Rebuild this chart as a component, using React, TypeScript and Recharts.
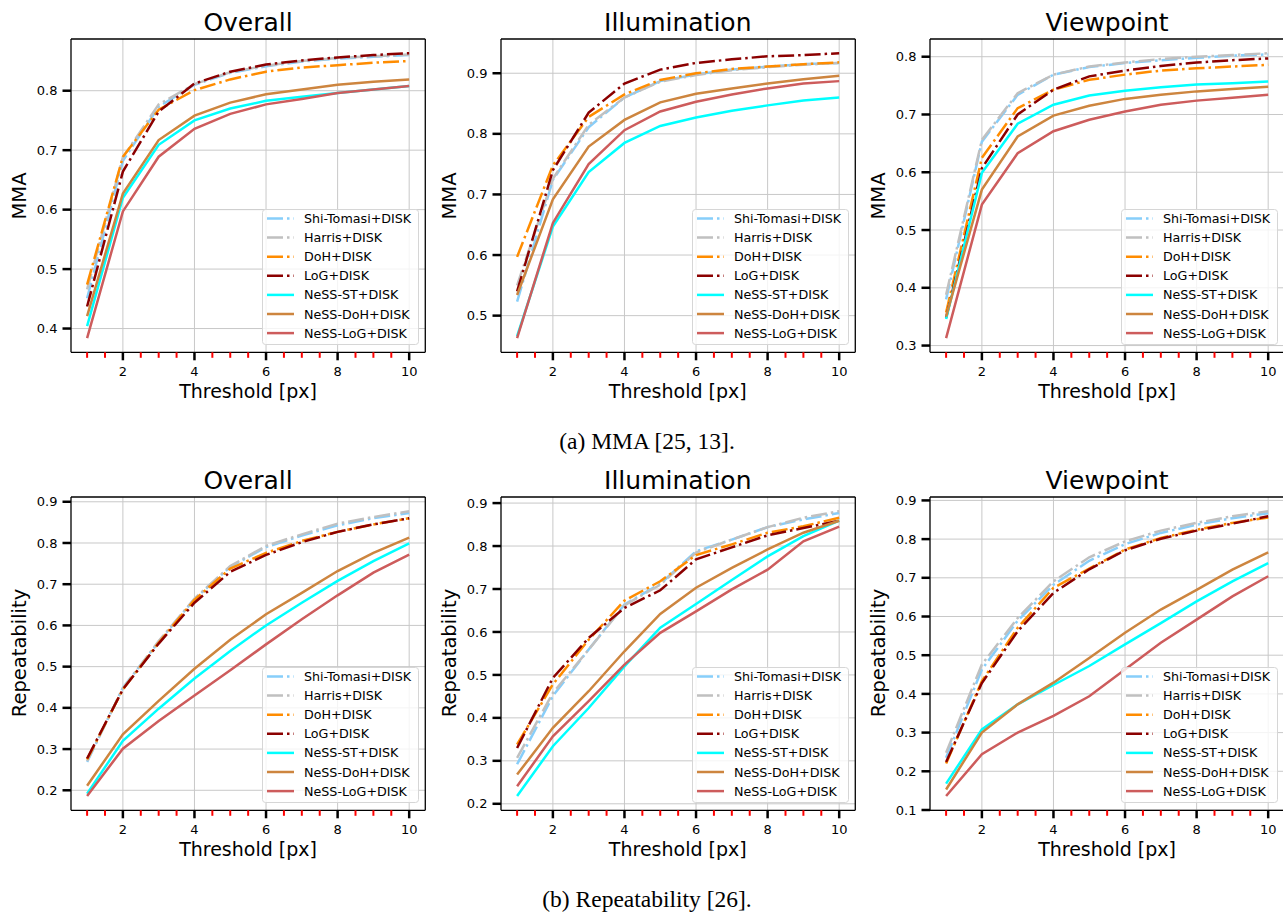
import React from "react";
import {
  CartesianGrid,
  Legend,
  Line,
  LineChart,
  XAxis,
  YAxis,
} from "recharts";

const FONT = "DejaVu Sans, sans-serif";

const thresholds = [1, 2, 3, 4, 5, 6, 7, 8, 9, 10];
const majorXTicks = [2, 4, 6, 8, 10];
const minorXTicks = [1, 1.5, 2.5, 3, 3.5, 4.5, 5, 5.5, 6.5, 7, 7.5, 8.5, 9, 9.5];
const allXTicks = [...minorXTicks, ...majorXTicks].sort((a, b) => a - b);

const methods = [
  { key: "shiTomasi", name: "Shi-Tomasi+DISK", color: "#87cefa", dash: "16 4 2.5 4" },
  { key: "harris", name: "Harris+DISK", color: "#c0c0c0", dash: "16 4 2.5 4" },
  { key: "doh", name: "DoH+DISK", color: "#ff8c00", dash: "16 4 2.5 4" },
  { key: "log", name: "LoG+DISK", color: "#8b0000", dash: "16 4 2.5 4" },
  { key: "nessSt", name: "NeSS-ST+DISK", color: "#00ffff", dash: undefined },
  { key: "nessDoh", name: "NeSS-DoH+DISK", color: "#cd853f", dash: undefined },
  { key: "nessLog", name: "NeSS-LoG+DISK", color: "#cd5c5c", dash: undefined },
];

// (a) MMA
const mmaOverall: Record<string, number[]> = {
  shiTomasi: [0.451, 0.682, 0.773, 0.81, 0.83, 0.841, 0.849, 0.854, 0.857, 0.86],
  harris: [0.466, 0.688, 0.777, 0.811, 0.831, 0.842, 0.85, 0.855, 0.858, 0.861],
  doh: [0.474, 0.689, 0.768, 0.801, 0.819, 0.832, 0.839, 0.843, 0.847, 0.85],
  log: [0.437, 0.664, 0.765, 0.812, 0.832, 0.844, 0.851, 0.856, 0.86, 0.863],
  nessSt: [0.404, 0.62, 0.709, 0.75, 0.77, 0.783, 0.79, 0.796, 0.802, 0.808],
  nessDoh: [0.421, 0.627, 0.717, 0.758, 0.78, 0.794, 0.802, 0.81, 0.815, 0.819],
  nessLog: [0.384, 0.597, 0.689, 0.736, 0.761, 0.777, 0.786, 0.796, 0.802, 0.808],
};

const mmaIllumination: Record<string, number[]> = {
  shiTomasi: [0.523, 0.724, 0.811, 0.86, 0.887, 0.898, 0.906, 0.911, 0.915, 0.917],
  harris: [0.55, 0.726, 0.815, 0.86, 0.886, 0.897, 0.905, 0.91, 0.914, 0.917],
  doh: [0.597, 0.748, 0.828, 0.865, 0.889, 0.9, 0.907, 0.911, 0.915, 0.918],
  log: [0.54, 0.74, 0.835, 0.883, 0.906, 0.917, 0.923, 0.928, 0.93, 0.933],
  nessSt: [0.466, 0.647, 0.737, 0.785, 0.813, 0.827, 0.838, 0.847, 0.855, 0.86],
  nessDoh: [0.534, 0.692, 0.779, 0.823, 0.852, 0.866, 0.875, 0.883, 0.89, 0.896],
  nessLog: [0.463, 0.653, 0.75, 0.806, 0.837, 0.853, 0.865, 0.875, 0.883, 0.887],
};

const mmaViewpoint: Record<string, number[]> = {
  shiTomasi: [0.38, 0.653, 0.734, 0.769, 0.782, 0.789, 0.794, 0.798, 0.802, 0.804],
  harris: [0.388, 0.656, 0.737, 0.769, 0.783, 0.79, 0.796, 0.8, 0.803, 0.806],
  doh: [0.357, 0.625, 0.711, 0.743, 0.76, 0.769, 0.776, 0.78, 0.783, 0.786],
  log: [0.348, 0.607, 0.7, 0.743, 0.766, 0.776, 0.784, 0.79, 0.794, 0.797],
  nessSt: [0.346, 0.599, 0.684, 0.717, 0.733, 0.741, 0.747, 0.752, 0.754, 0.757],
  nessDoh: [0.35, 0.57, 0.662, 0.698, 0.715, 0.727, 0.734, 0.74, 0.744, 0.748],
  nessLog: [0.313, 0.544, 0.633, 0.671, 0.691, 0.705, 0.717, 0.724, 0.729, 0.734],
};

// (b) Repeatability
const repOverall: Record<string, number[]> = {
  shiTomasi: [0.269, 0.449, 0.56, 0.664, 0.742, 0.79, 0.818, 0.843, 0.86, 0.873],
  harris: [0.271, 0.447, 0.562, 0.665, 0.744, 0.793, 0.821, 0.847, 0.863, 0.877],
  doh: [0.275, 0.445, 0.558, 0.662, 0.738, 0.776, 0.805, 0.827, 0.845, 0.86],
  log: [0.277, 0.445, 0.556, 0.655, 0.73, 0.771, 0.802, 0.827, 0.845, 0.86],
  nessSt: [0.192, 0.32, 0.398, 0.471, 0.538, 0.6, 0.655, 0.708, 0.756, 0.799],
  nessDoh: [0.211, 0.336, 0.417, 0.495, 0.565, 0.627, 0.679, 0.732, 0.776, 0.813],
  nessLog: [0.186, 0.301, 0.368, 0.43, 0.491, 0.554, 0.615, 0.673, 0.728, 0.772],
};

const repIllumination: Record<string, number[]> = {
  shiTomasi: [0.292, 0.451, 0.559, 0.664, 0.712, 0.788, 0.815, 0.844, 0.862, 0.877],
  harris: [0.307, 0.458, 0.559, 0.662, 0.71, 0.785, 0.815, 0.844, 0.866, 0.881],
  doh: [0.338, 0.478, 0.582, 0.673, 0.718, 0.779, 0.804, 0.831, 0.846, 0.866],
  log: [0.33, 0.493, 0.586, 0.656, 0.697, 0.769, 0.797, 0.825, 0.842, 0.859],
  nessSt: [0.218, 0.334, 0.423, 0.52, 0.61, 0.665, 0.721, 0.776, 0.823, 0.859],
  nessDoh: [0.268, 0.377, 0.462, 0.555, 0.642, 0.703, 0.749, 0.792, 0.831, 0.859],
  nessLog: [0.241, 0.357, 0.439, 0.524, 0.598, 0.648, 0.699, 0.745, 0.811, 0.845],
};

const repViewpoint: Record<string, number[]> = {
  shiTomasi: [0.235, 0.463, 0.589, 0.682, 0.744, 0.787, 0.816, 0.837, 0.854, 0.867],
  harris: [0.248, 0.476, 0.596, 0.691, 0.753, 0.794, 0.822, 0.842, 0.859, 0.872],
  doh: [0.22, 0.433, 0.571, 0.674, 0.724, 0.773, 0.803, 0.824, 0.842, 0.856],
  log: [0.224, 0.428, 0.562, 0.661, 0.722, 0.771, 0.801, 0.822, 0.84, 0.859],
  nessSt: [0.168, 0.308, 0.373, 0.423, 0.472, 0.528, 0.583, 0.639, 0.691, 0.738],
  nessDoh: [0.153, 0.3, 0.373, 0.429, 0.493, 0.558, 0.618, 0.669, 0.721, 0.766],
  nessLog: [0.136, 0.244, 0.3, 0.343, 0.394, 0.463, 0.532, 0.592, 0.652, 0.704],
};

const panels = [
  { title: "Overall", yLabel: "MMA", values: mmaOverall, yTicks: [0.4, 0.5, 0.6, 0.7, 0.8], col: 0, row: 0 },
  { title: "Illumination", yLabel: "MMA", values: mmaIllumination, yTicks: [0.5, 0.6, 0.7, 0.8, 0.9], col: 1, row: 0 },
  { title: "Viewpoint", yLabel: "MMA", values: mmaViewpoint, yTicks: [0.3, 0.4, 0.5, 0.6, 0.7, 0.8], col: 2, row: 0 },
  { title: "Overall", yLabel: "Repeatability", values: repOverall, yTicks: [0.2, 0.3, 0.4, 0.5, 0.6, 0.7, 0.8, 0.9], col: 0, row: 1 },
  { title: "Illumination", yLabel: "Repeatability", values: repIllumination, yTicks: [0.2, 0.3, 0.4, 0.5, 0.6, 0.7, 0.8, 0.9], col: 1, row: 1 },
  { title: "Viewpoint", yLabel: "Repeatability", values: repViewpoint, yTicks: [0.1, 0.2, 0.3, 0.4, 0.5, 0.6, 0.7, 0.8, 0.9], col: 2, row: 1 },
];

const captions = ["(a) MMA [25, 13].", "(b) Repeatability [26]."];

// layout (page pixels)
const PLOT_LEFT = [70.9, 500.6, 929.9];
const PLOT_TOP = [39, 496.5];
const PW = 354.3;
const PH = 313.3;
const YW = 60;
const TM = 5;
const RM = 5;
const XH = 40;
const X_TICK_SIZE = 8;
const X_TICK_MARGIN = 6;
const LEG_W = 157;
const LEG_H = 136;
const ROW_H = 19.1;

// matplotlib-like 5% margins
function paddedDomain(values: Record<string, number[]>): [number, number] {
  const all = Object.values(values).flat();
  const lo = Math.min(...all);
  const hi = Math.max(...all);
  const pad = (hi - lo) * 0.05;
  return [lo - pad, hi + pad];
}

// major ticks black with labels, minor ticks short and red
const XTick = (props: any) => {
  const { x, y, payload } = props;
  const v = payload.value as number;
  const axisY = y - X_TICK_SIZE - X_TICK_MARGIN;
  const major = majorXTicks.includes(v);
  return (
    <g>
      <line
        x1={x}
        x2={x}
        y1={axisY}
        y2={axisY + (major ? X_TICK_SIZE : 5.5)}
        stroke={major ? "#000" : "#ff0000"}
        strokeWidth={major ? 2.5 : 2}
      />
      {major && (
        <text x={x} y={y} dy="0.71em" textAnchor="middle" fontFamily={FONT} fontSize={13} fill="#000">
          {v}
        </text>
      )}
    </g>
  );
};

const LegendBox = () => (
  <svg width={LEG_W} height={LEG_H} style={{ display: "block" }}>
    <rect
      x={0.5}
      y={0.5}
      width={LEG_W - 1}
      height={LEG_H - 1}
      rx={3}
      fill="#fff"
      fillOpacity={0.8}
      stroke="#d6d6d6"
    />
    {methods.map((m, i) => {
      const cy = 9.5 + i * ROW_H;
      return (
        <g key={m.key}>
          <line x1={5} y1={cy} x2={32} y2={cy} stroke={m.color} strokeWidth={2.5} strokeDasharray={m.dash} />
          <text x={42} y={cy} dy="0.36em" fontFamily={FONT} fontSize={12.7} fill="#000">
            {m.name}
          </text>
        </g>
      );
    })}
  </svg>
);

const Panel = ({ p }: { p: (typeof panels)[number] }) => {
  const data = thresholds.map((t, i) => {
    const row: Record<string, number> = { t };
    methods.forEach((m) => {
      row[m.key] = p.values[m.key][i];
    });
    return row;
  });
  const yDomain = paddedDomain(p.values);
  const xDomain: [number, number] = [0.55, 10.45];
  const left = PLOT_LEFT[p.col];
  const top = PLOT_TOP[p.row];
  const tickStyle = { fill: "#000", fontSize: 13, fontFamily: FONT };

  return (
    <>
      <div
        style={{
          position: "absolute",
          left: left + PW / 2 - 150,
          width: 300,
          top: top - 33,
          textAlign: "center",
          fontFamily: FONT,
          fontSize: 25,
          lineHeight: "34px",
          color: "#000",
        }}
      >
        {p.title}
      </div>
      <div
        style={{
          position: "absolute",
          left: left - 51 - 100,
          width: 200,
          top: top + PH / 2 - 14,
          height: 28,
          lineHeight: "28px",
          textAlign: "center",
          transform: "rotate(-90deg)",
          fontFamily: FONT,
          fontSize: 19.5,
          color: "#000",
        }}
      >
        {p.yLabel}
      </div>
      <div
        style={{
          position: "absolute",
          left: left + PW / 2 - 150,
          width: 300,
          top: top + PH + 25,
          lineHeight: "28px",
          textAlign: "center",
          fontFamily: FONT,
          fontSize: 19,
          color: "#000",
        }}
      >
        Threshold [px]
      </div>
      <div style={{ position: "absolute", left: left - YW, top: top - TM }}>
        <LineChart
          width={YW + PW + RM}
          height={TM + PH + XH}
          data={data}
          margin={{ top: TM, right: RM, left: 0, bottom: 0 }}
        >
          <CartesianGrid
            stroke="#c8c8c8"
            strokeWidth={1}
            verticalValues={majorXTicks}
            horizontalValues={p.yTicks}
          />
          <XAxis
            dataKey="t"
            type="number"
            domain={xDomain}
            ticks={allXTicks}
            interval={0}
            tick={XTick}
            tickSize={X_TICK_SIZE}
            tickMargin={X_TICK_MARGIN}
            tickLine={false}
            axisLine={{ stroke: "#000", strokeWidth: 1.3 }}
            height={XH}
            allowDataOverflow
          />
          <XAxis
            xAxisId="top"
            orientation="top"
            type="number"
            domain={xDomain}
            tick={false}
            tickLine={false}
            axisLine={{ stroke: "#000", strokeWidth: 1.3 }}
            height={0.01}
            allowDataOverflow
          />
          <YAxis
            type="number"
            domain={yDomain}
            ticks={p.yTicks}
            interval={0}
            tickFormatter={(v: number) => v.toFixed(1)}
            tick={tickStyle}
            tickSize={8.5}
            tickMargin={5}
            tickLine={{ stroke: "#000", strokeWidth: 2.5 }}
            axisLine={{ stroke: "#000", strokeWidth: 1.3 }}
            width={YW}
            allowDataOverflow
          />
          <YAxis
            yAxisId="right"
            orientation="right"
            type="number"
            domain={yDomain}
            tick={false}
            tickLine={false}
            axisLine={{ stroke: "#000", strokeWidth: 1.3 }}
            width={0.01}
            allowDataOverflow
          />
          {methods.map((m) => (
            <Line
              key={m.key}
              type="linear"
              dataKey={m.key}
              name={m.name}
              stroke={m.color}
              strokeWidth={2.5}
              strokeDasharray={m.dash}
              dot={false}
              activeDot={false}
              isAnimationActive={false}
            />
          ))}
          <Legend
            layout="horizontal"
            verticalAlign="middle"
            align="center"
            wrapperStyle={{
              left: YW + PW - 6 - LEG_W,
              top: TM + PH - 7 - LEG_H,
              width: LEG_W,
              height: LEG_H,
            }}
            content={() => <LegendBox />}
          />
        </LineChart>
      </div>
    </>
  );
};

export default function App() {
  return (
    <div
      style={{
        position: "absolute",
        left: 0,
        top: 0,
        width: 1283,
        height: 915,
        overflow: "hidden",
        background: "#fff",
      }}
    >
      {panels.map((p, i) => (
        <Panel key={i} p={p} />
      ))}
      {captions.map((c, i) => (
        <div
          key={c}
          style={{
            position: "absolute",
            left: 447,
            width: 400,
            top: i === 0 ? 427 : 885,
            lineHeight: "28px",
            textAlign: "center",
            fontFamily: "'Liberation Serif', 'Times New Roman', serif",
            fontSize: 23.5,
            color: "#000",
          }}
        >
          {c}
        </div>
      ))}
    </div>
  );
}
